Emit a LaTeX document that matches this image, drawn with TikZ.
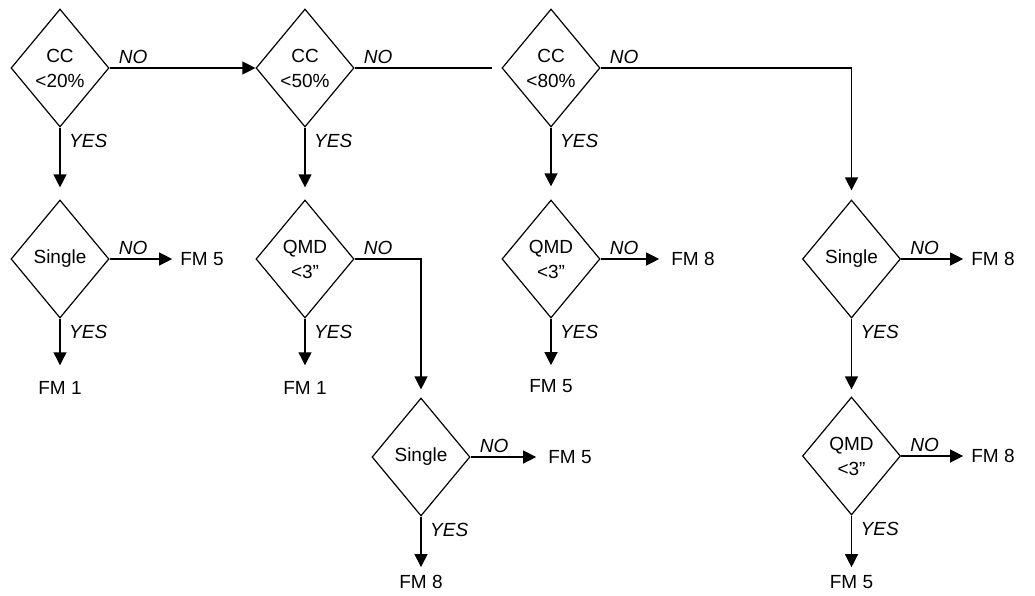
\documentclass[tikz,border=0pt]{standalone}
\usepackage{fontspec}
\setmainfont{Liberation Sans}
\usetikzlibrary{shapes.geometric,arrows.meta}
\begin{document}
\begin{tikzpicture}[x=1pt,y=-1pt,
  every node/.style={font=\fontsize{19}{25}\selectfont},
  dec/.style={draw, diamond, line width=1.2pt, minimum width=98pt, minimum height=118pt, inner sep=0pt, align=center},
  res/.style={inner sep=0pt},
  lab/.style={inner sep=0pt, font=\fontsize{19}{25}\selectfont\itshape},
  conn/.style={line width=1.3pt},
  arr/.style={conn, -{Triangle[length=13pt,width=13pt]}}
]
\useasboundingbox (0,0) rectangle (1035,595);
% decisions
\node[dec] (d1) at (60,68) {CC\\<20\%};
\node[dec] (d2) at (305,68) {CC\\<50\%};
\node[dec] (d3) at (551,68) {CC\\<80\%};
\node[dec] (d4) at (60,259) {Single};
\node[dec] (d5) at (305,259) {QMD\\<3”};
\node[dec] (d6) at (551,259) {QMD\\<3”};
\node[dec] (d7) at (851.5,259) {Single};
\node[dec] (d8) at (421,457) {Single};
\node[dec] (d9) at (851.5,456) {QMD\\<3”};
% results
\node[res] (r1) at (202,259) {FM 5};
\node[res] (r2) at (60,388) {FM 1};
\node[res] (r3) at (305,388) {FM 1};
\node[res] (r4) at (693,259) {FM 8};
\node[res] (r5) at (551,386) {FM 5};
\node[res] (r6) at (993,259) {FM 8};
\node[res] (r7) at (570,457) {FM 5};
\node[res] (r8) at (421,582) {FM 8};
\node[res] (r9) at (993,456) {FM 8};
\node[res] (r10) at (851.5,582) {FM 5};
% connectors
\draw[arr] (d1.east) -- (d2.west);
\draw[conn, shorten >=9pt] (d2.east) -- (d3.west);
\draw[arr, shorten >=9pt] (d3.east) -| (d7.north);
\draw[arr, shorten >=12pt] (d1.south) -- (d4.north);
\draw[arr, shorten >=12pt] (d2.south) -- (d5.north);
\draw[arr, shorten >=13pt] (d3.south) -- (d6.north);
\draw[arr, shorten >=8pt] (d4.east) -- (r1.west);
\draw[arr, shorten >=16pt] (d4.south) -- (r2.north);
\draw[arr, shorten >=16pt] (d5.south) -- (r3.north);
\draw[arr, shorten >=8pt] (d5.east) -| (d8.north);
\draw[arr, shorten >=12pt] (d6.east) -- (r4.west);
\draw[arr, shorten >=14pt] (d6.south) -- (r5.north);
\draw[arr, shorten >=8pt] (d7.east) -- (r6.west);
\draw[arr, shorten >=7pt] (d7.south) -- (d9.north);
\draw[arr, shorten >=12pt] (d8.east) -- (r7.west);
\draw[arr, shorten >=8pt] (d8.south) -- (r8.north);
\draw[arr, shorten >=8pt] (d9.east) -- (r9.west);
\draw[arr, shorten >=8pt] (d9.south) -- (r10.north);
% labels
\foreach \d in {d1,d2,d3,d4,d5,d6,d7,d8,d9}{
  \node[lab, anchor=south west] (no\d) at ([xshift=9pt,yshift=4pt]\d.east) {NO};
  \node[lab, anchor=north west] (yes\d) at ([xshift=9pt,yshift=-6pt]\d.south) {YES};
}
\end{tikzpicture}
\end{document}
